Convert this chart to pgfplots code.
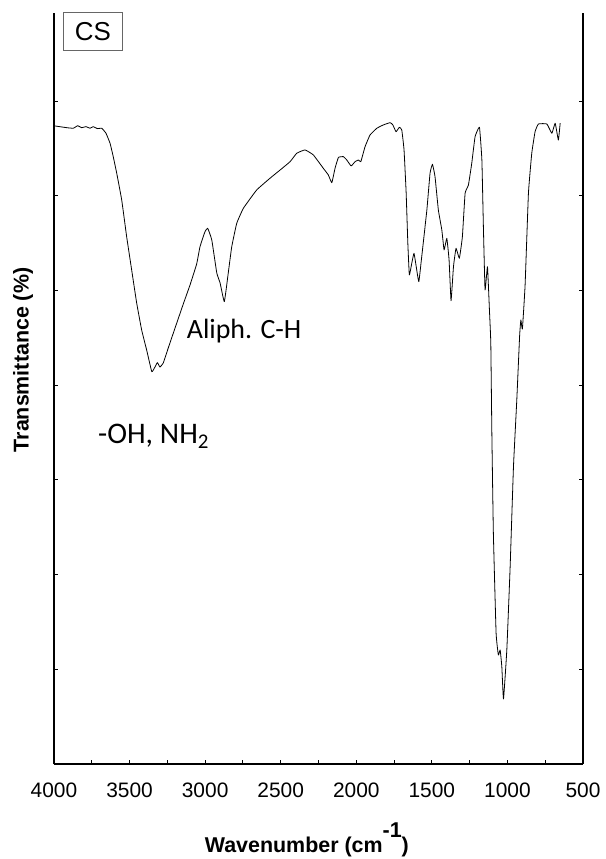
\documentclass[border=0pt]{standalone}
\usepackage{pgfplots}
\pgfplotsset{compat=1.18}
\usepackage{fontspec}
\setmainfont{Liberation Sans}
\newfontfamily\carlito{Carlito}
\begin{document}
\begin{tikzpicture}
\useasboundingbox (-54bp,-95bp) rectangle (552bp,764bp);
\begin{axis}[
  scale only axis,
  width=529bp, height=751bp,
  x dir=reverse,
  xmin=500, xmax=4000,
  ymin=0, ymax=79.3,
  axis x line*=bottom,
  axis y line*=box,
  axis line style={line width=1.6bp, black},
  tick align=inside,
  major tick length=4bp,
  minor tick length=4bp,
  tick style={line width=1bp, black},
  xtick={500,1000,...,4000},
  minor xtick={750,1250,...,3750},
  ytick={10,20,...,70},
  yticklabels={},
  /pgf/number format/assume math mode=true,
  /pgf/number format/set thousands separator={},
  xticklabel style={font=\fontsize{21}{24}\selectfont, anchor=base, yshift=-33bp},
  xlabel={\textbf{Wavenumber (cm\raisebox{15bp}{-1})}},
  xlabel style={font=\fontsize{21.5}{24}\selectfont, at={(axis description cs:0.478,-0.1185)}, anchor=base},
  ylabel={\textbf{Transmittance (\%)}},
  ylabel style={font=\fontsize{21.5}{24}\selectfont, at={(axis description cs:-0.0586,0.538)}, anchor=center, rotate=0},
  clip=false,
]
\addplot[black, line width=0.8bp, line join=round, smooth, tension=0.2] coordinates {
(3993,67.37) (3916,67.19) (3872,67.13) (3843,67.40) (3817,67.19) (3788,67.30)
(3762,67.13) (3740,67.30) (3713,67.09) (3684,67.13) (3656,66.60) (3629,65.54)
(3608,64.13) (3585,62.38) (3552,59.56) (3519,55.65) (3486,52.16) (3453,48.68)
(3420,45.83) (3387,43.72) (3353,41.43) (3332,41.92) (3316,42.38) (3299,41.92)
(3277,42.34) (3244,43.93) (3199,46.04) (3144,48.60) (3100,50.58) (3056,52.80)
(3034,54.62) (3001,56.21) (2983,56.57) (2956,55.33) (2923,51.85) (2901,50.79)
(2873,48.82) (2847,51.85) (2824,54.62) (2791,57.09) (2747,58.68) (2659,60.61)
(2571,61.85) (2504,62.72) (2438,63.60) (2394,64.49) (2339,64.84) (2284,64.31)
(2218,62.90) (2185,62.20) (2162,61.38) (2140,62.94) (2118,64.05) (2085,64.13)
(2063,63.78) (2034,63.15) (2008,63.60) (1986,63.78) (1970,63.60) (1942,65.18)
(1909,66.42) (1864,67.13) (1821,67.48) (1776,67.72) (1758,67.48) (1737,66.77)
(1715,67.23) (1699,66.95) (1684,64.84) (1670,60.30) (1659,55.02) (1649,51.64)
(1633,52.87) (1618,53.93) (1600,52.16) (1586,50.93) (1567,53.57) (1533,58.50)
(1512,62.38) (1496,63.33) (1479,62.02) (1457,58.50) (1434,56.39) (1419,54.28)
(1401,55.51) (1386,53.22) (1373,48.92) (1357,52.51) (1340,54.46) (1318,53.40)
(1298,55.68) (1280,60.26) (1258,61.14) (1236,63.43) (1214,66.24) (1185,67.23)
(1169,63.78) (1159,56.74) (1148,50.05) (1132,52.51) (1119,47.94) (1110,44.46)
(1103,34.95) (1093,24.39) (1075,13.83) (1060,11.51) (1048,12.04) (1037,10.27)
(1026,6.86) (1004,12.04) (982,20.83) (960,31.39) (938,38.44) (919,45.30)
(911,46.89) (901,45.93) (883,50.58) (861,60.26) (839,64.49) (817,66.77)
(795,67.58) (739,67.58) (706,66.60) (684,67.66) (663,65.89) (651,67.66)
};
\node[draw=black!60, line width=0.8bp, minimum width=59.4bp, minimum height=37.3bp, inner sep=0pt, anchor=center,
  font=\fontsize{26}{28}\selectfont] at (axis cs:3742,77.36) {CS};
\node[anchor=base west, inner sep=0pt, font=\carlito\fontsize{28}{30}\selectfont] at (axis cs:3122,44.88) {Aliph. C-H};
\node[anchor=base west, inner sep=0pt, font=\carlito\fontsize{30}{33}\selectfont] at (axis cs:3709,33.8) {-OH, NH\textsubscript{2}};
\end{axis}
\end{tikzpicture}
\end{document}
